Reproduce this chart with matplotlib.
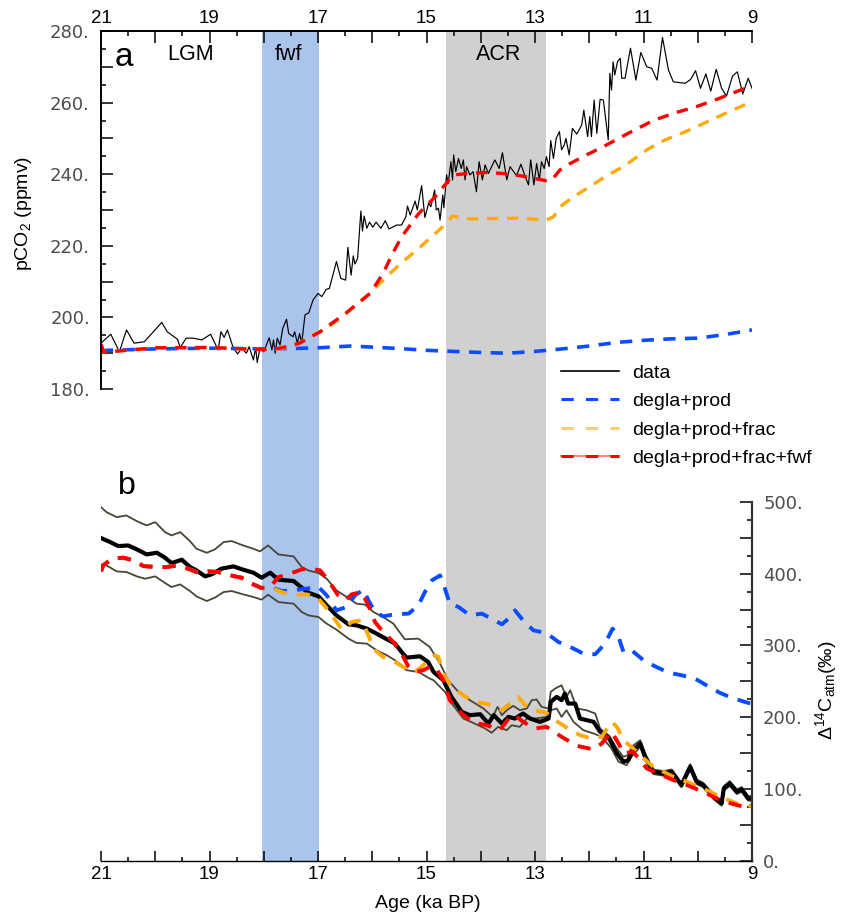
import matplotlib
matplotlib.use("Agg")
import matplotlib.pyplot as plt
from matplotlib.lines import Line2D
from matplotlib.legend_handler import HandlerTuple

plt.rcParams['font.family'] = ['Liberation Sans', 'DejaVu Sans']
plt.rcParams['mathtext.default'] = 'regular'

# panel a: pCO2 data
co2_age = [21.0, 20.82, 20.66, 20.53, 20.39, 20.2, 19.88, 19.78, 19.59, 19.54, 19.43, 19.3, 19.14, 18.98, 18.84,
           18.79, 18.73, 18.67, 18.56, 18.48, 18.41, 18.32, 18.27, 18.19, 18.15, 18.12, 18.07, 18.0, 17.9, 17.85,
           17.82, 17.79, 17.75, 17.7, 17.65, 17.58, 17.54, 17.46, 17.43, 17.38, 17.34, 17.3, 17.24, 17.17, 17.09,
           17.0, 16.93, 16.85, 16.79, 16.66, 16.58, 16.49, 16.45, 16.39, 16.35, 16.32, 16.27, 16.21, 16.18, 16.15,
           16.1, 16.05, 15.99, 15.93, 15.84, 15.76, 15.69, 15.55, 15.46, 15.38, 15.35, 15.3, 15.21, 15.17, 15.09,
           15.03, 14.96, 14.92, 14.85, 14.82, 14.78, 14.75, 14.7, 14.68, 14.63, 14.6, 14.55, 14.52, 14.5, 14.46,
           14.41, 14.36, 14.32, 14.29, 14.26, 14.2, 14.14, 14.08, 14.03, 13.97, 13.92, 13.86, 13.74, 13.66, 13.6,
           13.52, 13.46, 13.34, 13.26, 13.18, 13.12, 13.08, 13.02, 12.97, 12.92, 12.88, 12.83, 12.79, 12.74, 12.71,
           12.66, 12.61, 12.55, 12.51, 12.46, 12.43, 12.37, 12.31, 12.23, 12.14, 12.1, 12.03, 11.99, 11.96, 11.91,
           11.86, 11.8, 11.74, 11.65, 11.62, 11.59, 11.56, 11.53, 11.48, 11.43, 11.4, 11.34, 11.24, 11.14, 11.05,
           10.94, 10.85, 10.75, 10.65, 10.54, 10.45, 10.23, 10.13, 10.04, 9.95, 9.85, 9.76, 9.66, 9.56, 9.47,
           9.36, 9.27, 9.17, 9.07, 9.0]
co2_val = [192.8, 195.3, 190.4, 196.5, 192.8, 193.2, 198.6, 196.0, 193.9, 191.6, 194.2, 194.2, 193.7, 195.3, 190.9,
           196.0, 194.4, 196.5, 191.4, 189.8, 191.4, 190.0, 191.8, 188.1, 191.6, 187.4, 191.4, 190.4, 194.3, 190.9,
           193.7, 190.0, 194.2, 192.3, 196.9, 199.5, 195.5, 194.6, 196.0, 192.8, 195.5, 192.8, 200.7, 201.3, 204.9,
           206.7, 205.8, 207.8, 208.1, 215.6, 210.9, 210.4, 219.6, 211.8, 217.2, 214.9, 216.5, 229.7, 224.1, 228.3,
           224.9, 226.6, 225.2, 226.6, 224.9, 227.0, 224.7, 225.8, 225.8, 228.1, 231.1, 228.6, 232.5, 230.0, 236.8,
           227.9, 231.9, 230.9, 235.6, 230.0, 230.5, 227.2, 234.2, 230.6, 239.8, 237.4, 243.5, 238.4, 245.4, 240.7,
           244.4, 241.6, 244.0, 238.4, 242.1, 239.8, 240.7, 235.1, 243.5, 238.4, 242.6, 240.2, 244.0, 241.6, 246.0,
           238.4, 242.1, 239.6, 242.8, 239.3, 237.0, 244.0, 237.0, 243.0, 238.4, 243.5, 241.6, 244.9, 242.1, 249.4,
           244.4, 250.0, 251.9, 246.8, 248.2, 250.0, 245.4, 252.8, 251.2, 253.7, 257.9, 250.5, 256.1, 250.5, 260.7,
           251.4, 260.9, 260.7, 249.6, 268.2, 263.5, 271.4, 267.7, 271.4, 272.4, 266.8, 266.8, 275.2, 266.3, 274.0,
           270.0, 269.6, 266.3, 278.2, 269.1, 265.8, 265.4, 266.5, 268.9, 264.0, 268.0, 263.2, 269.3, 264.0, 261.8,
           267.4, 268.6, 262.4, 266.8, 264.0]

# panel a: model runs
blue_a_age = [21.0, 20.9, 20.0, 19.0, 18.0, 17.5, 17.0, 16.4, 16.0, 15.5, 15.0, 14.5, 14.0, 13.5, 13.0, 12.5, 12.0,
              11.5, 11.0, 10.5, 10.0, 9.5, 9.0]
blue_a_val = [190.5, 190.8, 191.2, 191.4, 191.2, 191.3, 191.5, 192.0, 191.7, 191.3, 190.8, 190.5, 190.2, 190.0,
              190.5, 191.2, 192.0, 193.0, 193.6, 194.0, 194.2, 195.2, 196.5]
orange_a_age = [21.0, 20.95, 20.85, 20.0, 19.0, 18.0, 17.7, 17.39, 17.21, 16.9, 16.59, 16.1, 15.86, 15.49, 15.18,
                14.87, 14.63, 14.52, 14.38, 14.2, 13.89, 13.28, 12.79, 12.66, 12.54, 12.29, 11.99, 11.68, 11.37,
                10.94, 10.63, 10.27, 9.96, 9.59, 9.28, 9.0]
orange_a_val = [192.5, 190.3, 190.4, 191.5, 191.6, 191.0, 191.2, 192.3, 194.2, 196.5, 199.7, 206.0, 209.5, 214.9,
                218.8, 223.0, 226.3, 228.3, 228.0, 227.5, 227.6, 227.7, 227.2, 228.1, 230.9, 233.7, 236.5, 239.6,
                242.1, 246.8, 249.4, 251.6, 253.7, 256.3, 258.4, 260.3]
red_a_age = [21.0, 20.95, 20.85, 20.0, 19.0, 18.0, 17.7, 17.34, 16.96, 16.47, 16.04, 15.8, 15.64, 15.46, 15.15,
             14.84, 14.69, 14.5, 14.3, 13.89, 13.58, 13.28, 12.8, 12.69, 12.54, 12.35, 12.05, 11.74, 11.31, 10.82,
             10.45, 10.02, 9.65, 9.13, 9.0]
red_a_val = [192.5, 190.3, 190.4, 191.5, 191.6, 191.0, 191.4, 192.8, 196.0, 201.4, 206.7, 212.3, 217.4, 222.5,
             228.9, 233.7, 236.5, 239.8, 240.1, 240.5, 240.2, 239.6, 238.2, 238.4, 241.2, 243.0, 245.4, 247.7,
             251.2, 255.0, 257.0, 258.9, 260.9, 264.0, 264.6]

# panel b: D14C data, mean and envelope
mean_age = [21.0, 20.83, 20.68, 20.5, 20.34, 20.16, 19.97, 19.82, 19.7, 19.51, 19.36, 19.24, 19.08, 18.96, 18.78,
            18.56, 18.38, 18.19, 18.04, 17.88, 17.73, 17.45, 17.3, 17.18, 16.99, 16.84, 16.66, 16.44, 16.29, 16.1,
            15.92, 15.73, 15.58, 15.46, 15.37, 15.12, 14.97, 14.87, 14.69, 14.54, 14.35, 14.2, 14.01, 13.86, 13.76,
            13.61, 13.49, 13.37, 13.22, 13.09, 12.91, 12.75, 12.71, 12.6, 12.51, 12.45, 12.39, 12.26, 12.17, 11.92,
            11.8, 11.65, 11.49, 11.37, 11.28, 11.22, 11.06, 10.97, 10.82, 10.63, 10.48, 10.3, 10.14, 10.02, 9.9,
            9.71, 9.56, 9.52, 9.41, 9.28, 9.19, 9.07, 9.0]
mean_val = [449.7, 444.1, 438.5, 439.4, 433.9, 426.9, 429.2, 422.3, 414.8, 419.5, 409.3, 404.6, 396.3, 399.1, 407.0,
            410.2, 405.6, 401.4, 394.4, 401.4, 391.6, 389.8, 380.5, 373.5, 368.4, 355.9, 341.9, 329.4, 328.0, 323.4,
            316.4, 308.5, 302.5, 290.9, 283.0, 284.8, 277.0, 263.0, 251.4, 228.2, 207.3, 202.7, 204.0, 191.0, 202.7,
            191.0, 200.3, 198.0, 205.0, 198.0, 193.4, 198.0, 221.2, 228.2, 223.6, 232.8, 218.9, 218.9, 198.0, 193.4,
            179.5, 172.5, 149.3, 137.7, 140.0, 151.6, 163.2, 144.6, 123.7, 121.4, 123.7, 105.2, 130.7, 109.8, 105.2,
            89.0, 79.6, 100.5, 107.5, 95.9, 99.1, 86.6, 86.6]
upper_age = [21.0, 20.9, 20.71, 20.53, 20.34, 20.16, 20.0, 19.82, 19.7, 19.54, 19.36, 19.24, 19.05, 18.9, 18.74,
             18.59, 18.38, 18.19, 18.07, 17.92, 17.73, 17.45, 17.3, 17.18, 16.99, 16.84, 16.66, 16.47, 16.29, 16.13,
             15.98, 15.8, 15.61, 15.4, 15.15, 14.94, 14.75, 14.6, 14.44, 14.2, 13.95, 13.78, 13.69, 13.61, 13.52,
             13.4, 13.28, 13.15, 13.06, 12.97, 12.88, 12.75, 12.71, 12.63, 12.51, 12.42, 12.35, 12.23, 12.05, 11.89,
             11.8, 11.62, 11.49, 11.37, 11.28, 11.22, 11.06, 10.97, 10.82, 10.63, 10.48, 10.3, 10.14, 10.02, 9.9,
             9.71, 9.56, 9.52, 9.41, 9.28, 9.19, 9.07, 9.0]
upper_val = [492.8, 485.9, 478.9, 481.2, 473.3, 467.3, 471.9, 458.0, 453.4, 458.0, 445.5, 434.8, 429.2, 433.9, 444.1,
             445.5, 439.4, 434.8, 431.1, 439.4, 426.9, 424.1, 409.3, 404.6, 400.9, 393.0, 376.8, 367.5, 358.2, 356.8,
             346.6, 339.6, 330.3, 308.5, 309.4, 297.8, 274.6, 251.4, 237.5, 223.6, 212.0, 200.3, 214.3, 202.7, 209.6,
             215.7, 209.6, 212.0, 223.6, 224.5, 214.3, 212.0, 235.2, 239.8, 244.4, 228.2, 237.5, 212.0, 209.6, 205.0,
             184.1, 172.5, 156.2, 144.6, 147.0, 158.6, 167.8, 149.3, 127.0, 124.7, 127.0, 108.4, 134.4, 113.0, 108.4,
             92.2, 82.9, 103.8, 110.7, 99.1, 102.4, 89.9, 89.9]
lower_age = [21.0, 20.9, 20.71, 20.53, 20.34, 20.19, 20.0, 19.82, 19.7, 19.54, 19.36, 19.24, 19.05, 18.9, 18.74,
             18.59, 18.38, 18.19, 18.04, 17.92, 17.73, 17.45, 17.3, 17.18, 16.99, 16.84, 16.66, 16.44, 16.29, 16.1,
             15.92, 15.73, 15.58, 15.37, 15.15, 14.94, 14.87, 14.66, 14.51, 14.32, 14.11, 13.92, 13.8, 13.68, 13.52,
             13.43, 13.28, 13.15, 13.0, 12.79, 12.71, 12.6, 12.51, 12.42, 12.29, 12.11, 11.92, 11.77, 11.59, 11.46,
             11.31, 11.22, 11.06, 10.97, 10.82, 10.63, 10.48, 10.3, 10.14, 10.02, 9.9, 9.71, 9.56, 9.52, 9.41, 9.28,
             9.19, 9.07, 9.0]
lower_val = [413.0, 411.6, 403.2, 402.3, 396.3, 393.0, 396.3, 387.0, 381.4, 385.1, 375.8, 368.4, 361.9, 366.6, 374.4,
             375.8, 371.2, 367.5, 363.8, 370.7, 360.5, 358.2, 346.6, 341.9, 339.6, 330.3, 322.0, 309.5, 303.4, 302.5,
             293.2, 286.2, 279.3, 265.4, 263.0, 253.7, 251.4, 235.2, 216.6, 198.0, 191.0, 184.1, 178.1, 186.4, 181.8,
             188.7, 186.4, 198.0, 198.0, 200.3, 209.6, 212.0, 200.3, 209.6, 193.4, 181.8, 177.1, 172.5, 156.2, 137.7,
             133.0, 144.6, 158.6, 140.0, 120.5, 118.2, 120.5, 102.0, 127.0, 106.6, 102.0, 85.7, 76.4, 97.3, 104.2,
             92.6, 95.9, 83.4, 83.4]

# panel b: model runs, all three are the same before 18 ka
spinup_age = [21.0, 20.96, 20.8, 20.59, 20.4, 20.22, 20.0, 19.79, 19.59, 19.39, 19.21, 19.02, 18.84, 18.62, 18.41,
              18.22, 18.04]
spinup_val = [403.2, 411.6, 420.9, 422.3, 418.6, 410.7, 409.3, 409.3, 411.6, 406.9, 401.4, 403.2, 402.3, 397.7,
              394.4, 386.0, 380.0]
blue_b_age = [17.85, 17.67, 17.45, 17.24, 16.99, 16.84, 16.66, 16.47, 16.32, 16.16, 16.07, 15.95, 15.8, 15.58, 15.33,
              15.15, 15.03, 14.9, 14.75, 14.66, 14.57, 14.41, 14.2, 13.98, 13.8, 13.61, 13.49, 13.37, 13.22, 13.03,
              12.79, 12.57, 12.35, 12.11, 11.89, 11.71, 11.57, 11.46, 11.37, 11.22, 11.0, 10.79, 10.54, 10.3, 10.05,
              9.84, 9.59, 9.37, 9.07, 9.0]
blue_b_val = [381.0, 375.8, 376.8, 379.0, 381.4, 369.8, 348.9, 353.6, 369.8, 377.7, 362.8, 346.6, 340.6, 343.4, 344.3,
              355.9, 374.4, 390.7, 397.6, 379.1, 358.2, 353.6, 342.0, 344.3, 337.3, 329.4, 337.3, 348.9, 335.0, 321.0,
              317.3, 304.8, 297.8, 288.6, 287.6, 302.5, 323.4, 311.8, 290.9, 293.2, 279.3, 270.9, 262.1, 258.4, 253.7,
              244.4, 233.8, 226.8, 219.8, 219.0]
orange_b_age = [17.85, 17.67, 17.45, 17.21, 17.02, 16.87, 16.72, 16.56, 16.38, 16.2, 16.07, 15.98, 15.8, 15.61, 15.43,
                15.21, 15.06, 14.94, 14.84, 14.78, 14.69, 14.54, 14.32, 14.14, 13.89, 13.74, 13.61, 13.46, 13.31,
                13.18, 13.03, 12.79, 12.63, 12.39, 12.17, 11.96, 11.77, 11.59, 11.49, 11.37, 11.19, 11.03, 10.82,
                10.45, 10.2, 9.9, 9.59, 9.28, 9.0]
orange_b_val = [380.0, 374.4, 370.7, 371.2, 367.5, 354.5, 339.6, 322.0, 332.7, 335.0, 314.1, 295.5, 283.9, 278.3,
                270.0, 263.0, 272.3, 281.6, 286.2, 283.9, 260.7, 242.1, 230.5, 221.2, 218.9, 214.3, 209.6, 218.9,
                228.2, 216.6, 209.6, 205.9, 195.7, 184.1, 174.8, 170.2, 172.5, 193.4, 186.4, 167.8, 156.2, 144.6,
                130.7, 116.8, 109.8, 100.5, 89.0, 79.6, 75.9]
red_b_age = [17.88, 17.73, 17.52, 17.3, 17.15, 16.96, 16.81, 16.63, 16.5, 16.38, 16.2, 16.07, 15.95, 15.8, 15.61,
             15.46, 15.33, 15.21, 15.06, 14.94, 14.84, 14.69, 14.57, 14.35, 14.14, 13.89, 13.65, 13.46, 13.37, 13.22,
             13.0, 12.79, 12.51, 12.23, 11.92, 11.77, 11.59, 11.46, 11.37, 11.19, 11.09, 10.94, 10.73, 10.45, 10.2,
             9.9, 9.59, 9.28, 9.0]
red_b_val = [381.4, 395.3, 400.0, 406.0, 407.0, 404.6, 390.7, 369.8, 362.8, 371.2, 374.4, 355.9, 332.7, 318.7, 304.8,
             288.6, 270.0, 263.0, 265.4, 270.0, 270.0, 251.4, 223.6, 205.0, 192.5, 188.7, 181.8, 200.3, 202.7, 193.4,
             184.1, 186.4, 172.5, 160.0, 154.8, 163.2, 179.5, 163.2, 149.3, 151.6, 142.3, 128.4, 121.4, 112.1, 105.2,
             95.9, 84.3, 77.3, 72.7]

# shaded periods
fwf_span = (18.03, 16.99)
acr_span = (14.64, 12.8)

# long ticks on every ka, only every other one carries a label
age_ticks = [21, 20, 19, 18, 17, 16, 15, 14, 13, 12, 11, 10, 9]
age_labels = ['21', '', '19', '', '17', '', '15', '', '13', '', '11', '', '9']
age_minor = [20.5, 19.5, 18.5, 17.5, 16.5, 15.5, 14.5, 13.5, 12.5, 11.5, 10.5, 9.5]
co2_ticks = [180, 190, 200, 210, 220, 230, 240, 250, 260, 270, 280]
co2_labels = ['180.', '', '200.', '', '220.', '', '240.', '', '260.', '', '280.']
co2_minor = [185, 195, 205, 215, 225, 235, 245, 255, 265, 275]
d14c_ticks = [0, 50, 100, 150, 200, 250, 300, 350, 400, 450, 500]
d14c_labels = ['0.', '', '100.', '', '200.', '', '300.', '', '400.', '', '500.']
d14c_minor = [25, 75, 125, 175, 225, 275, 325, 375, 425, 475]

BLUE = '#0a4cff'
ORANGE = '#ffa90a'
RED = '#ff0000'
dash = (0, (3.4, 2.6))

W, H = 841.0, 915.0
LEFT, RIGHT = 101.0, 752.0


def axes_px(top, bottom):
    return [LEFT / W, 1 - bottom / H, (RIGHT - LEFT) / W, (bottom - top) / H]


fig = plt.figure(figsize=(8.41, 9.15), dpi=100)

# bands run through both panels
ax_bg = fig.add_axes(axes_px(31, 861), zorder=0)
ax_bg.axvspan(fwf_span[0], fwf_span[1], color='#aac4ec', lw=0)
ax_bg.axvspan(acr_span[0], acr_span[1], color='#d0d0d0', lw=0)
ax_bg.set_xlim(21, 9)
ax_bg.axis('off')

ax_a = fig.add_axes(axes_px(31, 389), zorder=2, facecolor='none')
ax_b = fig.add_axes(axes_px(502, 860.5), zorder=1, facecolor='none')

# panel a
ax_a.plot(co2_age, co2_val, color='black', lw=0.85)
ax_a.plot(blue_a_age, blue_a_val, color=BLUE, lw=2.6, ls=dash)
ax_a.plot(orange_a_age, orange_a_val, color=ORANGE, lw=2.4, ls=dash)
ax_a.plot(red_a_age, red_a_val, color=RED, lw=2.4, ls=dash)
ax_a.set_xlim(21, 9)
ax_a.set_ylim(180, 280)
for s in ['bottom', 'right']:
    ax_a.spines[s].set_visible(False)
for s in ['top', 'left']:
    ax_a.spines[s].set_linewidth(1.4)
ax_a.xaxis.tick_top()
ax_a.set_xticks(age_ticks, age_labels, fontsize=13.5)
ax_a.set_xticks(age_minor, minor=True)
ax_a.set_yticks(co2_ticks, co2_labels, fontsize=13, family='DejaVu Sans', color='#4d4d4d')
ax_a.set_yticks(co2_minor, minor=True)
ax_a.tick_params(axis='both', which='major', direction='in', length=8.6, width=1.1)
ax_a.tick_params(axis='both', which='minor', direction='in', length=3.6, width=1.1)
ax_a.tick_params(axis='x', which='major', pad=3)
ax_a.tick_params(axis='y', which='major', pad=8)

ax_a.text(20.57, 272.6, 'a', fontsize=24, ha='center', va='center')
ax_a.text(19.35, 273.3, 'LGM', fontsize=15.5, ha='center', va='center')
ax_a.text(17.55, 273.3, 'fwf', fontsize=15.5, ha='center', va='center')
ax_a.text(13.67, 273.3, 'ACR', fontsize=15.5, ha='center', va='center')

# panel b
ax_b.plot(upper_age, upper_val, color='#4a4535', lw=1.3)
ax_b.plot(lower_age, lower_val, color='#4a4535', lw=1.3)
ax_b.plot(mean_age, mean_val, color='black', lw=3.0)
ax_b.plot(spinup_age + blue_b_age, spinup_val + blue_b_val, color=BLUE, lw=2.8, ls=dash)
ax_b.plot(spinup_age + orange_b_age, spinup_val + orange_b_val, color=ORANGE, lw=2.8, ls=dash)
ax_b.plot(spinup_age + red_b_age, spinup_val + red_b_val, color=RED, lw=2.8, ls=dash)
ax_b.set_xlim(21, 9)
ax_b.set_ylim(0, 500)
for s in ['top', 'left']:
    ax_b.spines[s].set_visible(False)
ax_b.spines['bottom'].set_linewidth(1.0)
ax_b.spines['right'].set_linewidth(1.6)
ax_b.spines['right'].set_color('#333333')
ax_b.yaxis.tick_right()
ax_b.set_xticks(age_ticks, age_labels, fontsize=13.5)
ax_b.set_xticks(age_minor, minor=True)
ax_b.set_yticks(d14c_ticks, d14c_labels, fontsize=13, family='DejaVu Sans', color='#4d4d4d')
ax_b.set_yticks(d14c_minor, minor=True)
ax_b.tick_params(axis='x', which='major', direction='in', length=7.2, width=1.1, pad=4)
ax_b.tick_params(axis='x', which='minor', direction='in', length=3.0, width=1.1)
ax_b.tick_params(axis='y', which='major', direction='in', length=8.6, width=1.1, pad=8)
ax_b.tick_params(axis='y', which='minor', direction='in', length=3.6, width=1.1)

ax_b.text(20.52, 522, 'b', fontsize=23, ha='center', va='center', clip_on=False)

# axis labels
fig.text(24 / W, 1 - 213 / H, 'pCO$_2$ (ppmv)', rotation=90, fontsize=14, ha='center', va='center')
fig.text(826 / W, 1 - 690 / H, 'Δ$^{14}$C$_{atm}$(‰)', rotation=90, fontsize=14, ha='center', va='center')
fig.text(428 / W, 1 - 904 / H, 'Age (ka BP)', fontsize=14, ha='center', va='center')

# legend
h_data = Line2D([], [], color='black', lw=1.2)
h_blue = Line2D([], [], color=BLUE, lw=2.2, ls=(0, (4, 4)))
h_orange = Line2D([], [], color='#ffcb7a', lw=2.2, ls=(0, (4, 4)))
h_red_thin = Line2D([], [], color='#ff8080', lw=1.4)
h_red = Line2D([], [], color=RED, lw=2.2, ls=(0, (4, 4)))
ax_a.legend([h_data, h_blue, h_orange, (h_red_thin, h_red)],
            ['data', 'degla+prod', 'degla+prod+frac', 'degla+prod+frac+fwf'],
            handler_map={tuple: HandlerTuple(ndivide=1, pad=0)},
            loc='upper left', bbox_to_anchor=(561 / W, 1 - 364 / H), bbox_transform=fig.transFigure,
            frameon=False, fontsize=14, handlelength=3.0, handletextpad=0.65, labelspacing=0.56,
            borderpad=0, borderaxespad=0)

fig.savefig('out.png', dpi=100)
